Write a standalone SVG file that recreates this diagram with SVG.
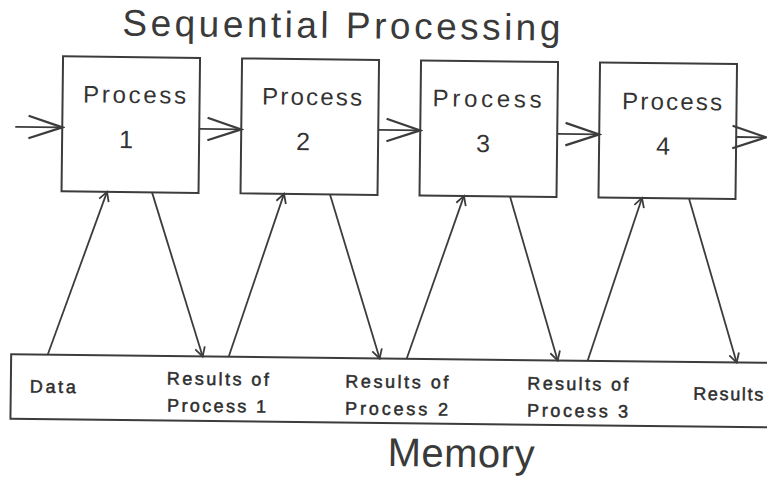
<svg xmlns="http://www.w3.org/2000/svg" width="767" height="481" viewBox="0 0 767 481">
<defs>
<style>
.box{fill:none;stroke:#3c3c3c;stroke-width:2}
.ln{fill:none;stroke:#3c3c3c;stroke-width:1.8}
.hz{marker-end:url(#bigHead)}
.dg{marker-end:url(#smallHead)}
.title{font-family:"Liberation Sans",Arial,sans-serif;font-size:37px;fill:#3a3a3a;font-weight:300}
.mem{font-family:"Liberation Sans",Arial,sans-serif;font-size:40px;fill:#3a3a3a;font-weight:300}
.plabel{font-family:"Liberation Sans",Arial,sans-serif;font-size:24px;fill:#333}
.num{font-family:"Liberation Sans",Arial,sans-serif;font-size:25px;fill:#333;text-anchor:middle}
.mlabel{font-family:"Liberation Sans",Arial,sans-serif;font-size:18px;fill:#2e2e2e;stroke:#2e2e2e;stroke-width:0.5}
</style>
<marker id="bigHead" markerUnits="userSpaceOnUse" markerWidth="40" markerHeight="30" viewBox="-30 -12 32 24" refX="0" refY="0" orient="auto">
<path d="M-27,-9 L0,0 L-27,9" fill="none" stroke="#3c3c3c" stroke-width="1.8"/>
</marker>
<marker id="smallHead" markerUnits="userSpaceOnUse" markerWidth="16" markerHeight="16" viewBox="-12 -8 14 16" refX="0" refY="0" orient="auto">
<path d="M-9,-5 L0,0 L-9,5" fill="none" stroke="#3c3c3c" stroke-width="1.8"/>
</marker>
</defs>
<rect width="767" height="481" fill="#ffffff"/>
<g transform="rotate(0.65 383 240)">
<g id="title">
<text class="title" x="120" y="38.5" textLength="438" lengthAdjust="spacing">Sequential Processing</text>
</g>
<g id="process1">
<rect class="box" x="61" y="60" width="137" height="135"/>
<text class="plabel" x="81.5" y="105.8" textLength="103" lengthAdjust="spacing">Process</text>
<text class="num" x="125" y="151">1</text>
</g>
<g id="process2">
<rect class="box" x="240" y="60" width="137" height="135"/>
<text class="plabel" x="260.5" y="105.8" textLength="100" lengthAdjust="spacing">Process</text>
<text class="num" x="302" y="151">2</text>
</g>
<g id="process3">
<rect class="box" x="419" y="60" width="137" height="135"/>
<text class="plabel" x="431" y="105.8" textLength="109" lengthAdjust="spacing">Process</text>
<text class="num" x="482" y="151">3</text>
</g>
<g id="process4">
<rect class="box" x="598" y="60" width="137" height="135"/>
<text class="plabel" x="620.5" y="106.5" textLength="100" lengthAdjust="spacing">Process</text>
<text class="num" x="662" y="151.5">4</text>
</g>
<g id="memory">
<rect class="box" x="12.5" y="358.5" width="790" height="64.5"/>
<text class="mlabel" x="31.5" y="396.5" textLength="46" lengthAdjust="spacing">Data</text>
<text class="mlabel" x="168.5" y="387" textLength="102" lengthAdjust="spacing">Results of</text>
<text class="mlabel" x="169" y="414" textLength="99" lengthAdjust="spacing">Process 1</text>
<text class="mlabel" x="347" y="387.8" textLength="103" lengthAdjust="spacing">Results of</text>
<text class="mlabel" x="347" y="414.8" textLength="103" lengthAdjust="spacing">Process 2</text>
<text class="mlabel" x="529" y="387.8" textLength="101" lengthAdjust="spacing">Results of</text>
<text class="mlabel" x="529" y="414.8" textLength="101" lengthAdjust="spacing">Process 3</text>
<text class="mlabel" x="695" y="396.2" textLength="70" lengthAdjust="spacing">Results</text>
<text class="mem" x="390" y="466" textLength="147" lengthAdjust="spacing">Memory</text>
</g>
<g id="connectors">
<line class="ln hz" x1="14" y1="131" x2="61" y2="131"/>
<line class="ln hz" x1="198" y1="131" x2="240" y2="131"/>
<line class="ln hz" x1="377" y1="130" x2="419" y2="130"/>
<line class="ln hz" x1="556" y1="132" x2="598" y2="132"/>
<line class="ln hz" x1="735" y1="133" x2="765" y2="133"/>
<line class="ln dg" x1="49" y1="358.5" x2="106.5" y2="195"/>
<line class="ln dg" x1="151.5" y1="195" x2="204" y2="358.5"/>
<line class="ln dg" x1="230" y1="358.5" x2="283.5" y2="195"/>
<line class="ln dg" x1="329.5" y1="195" x2="381" y2="358.5"/>
<line class="ln dg" x1="408" y1="358.5" x2="463.5" y2="195"/>
<line class="ln dg" x1="509.5" y1="195" x2="559" y2="358.5"/>
<line class="ln dg" x1="589" y1="358.5" x2="641.5" y2="195"/>
<line class="ln dg" x1="688.5" y1="195" x2="738" y2="358.5"/>
</g>
</g>
</svg>
